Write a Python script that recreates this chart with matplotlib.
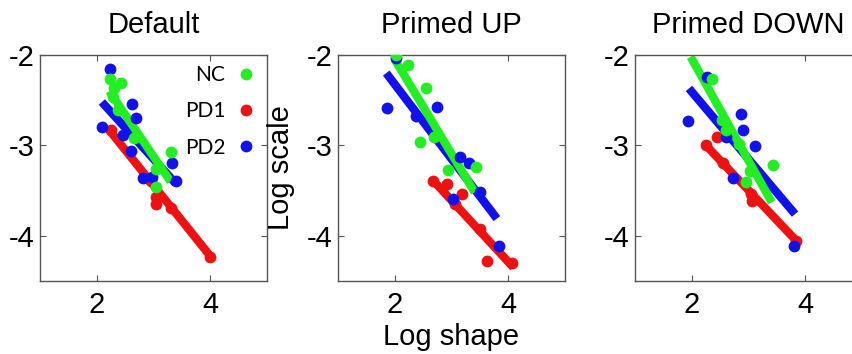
import matplotlib
matplotlib.use("Agg")
import matplotlib.pyplot as plt

plt.rcParams["font.family"] = ["Liberation Sans", "DejaVu Sans"]

titles = ["Default", "Primed UP", "Primed DOWN"]
groups = ["NC", "PD1", "PD2"]
colors = {"NC": "#22ee22", "PD1": "#ee1111", "PD2": "#1111ee"}

# points (log shape, log scale) per panel and group
nc_x = [[2.24, 2.43, 2.31, 2.28, 2.37, 2.66, 3.30, 3.05, 3.04],
        [2.02, 2.23, 2.55, 2.70, 2.44, 2.94, 3.43],
        [2.36, 2.53, 2.60, 2.83, 3.03, 2.96, 3.43]]
nc_y = [[-2.27, -2.31, -2.37, -2.46, -2.61, -2.92, -3.07, -3.26, -3.46],
        [-2.00, -2.11, -2.36, -2.91, -2.96, -3.27, -3.24],
        [-2.26, -2.72, -2.83, -2.98, -3.28, -3.41, -3.22]]
pd1_x = [[2.25, 2.96, 3.05, 3.05, 3.31, 3.99],
         [2.67, 2.92, 3.19, 3.06, 3.51, 3.62, 4.06],
         [2.25, 2.44, 2.55, 3.05, 3.07, 3.84]]
pd1_y = [[-2.83, -3.39, -3.57, -3.65, -3.69, -4.23],
         [-3.39, -3.43, -3.54, -3.65, -3.93, -4.28, -4.30],
         [-3.00, -2.91, -3.19, -3.54, -3.61, -4.06]]
pd2_x = [[2.23, 2.62, 2.69, 2.09, 2.46, 2.61, 2.81, 2.98, 3.33, 3.39],
         [2.03, 1.86, 2.75, 2.38, 3.15, 3.31, 3.02, 3.51, 3.83],
         [2.27, 1.94, 2.87, 2.91, 3.11, 2.60, 2.72, 3.81]]
pd2_y = [[-2.16, -2.54, -2.70, -2.80, -2.88, -3.06, -3.36, -3.35, -3.20, -3.39],
         [-2.03, -2.59, -2.57, -2.67, -3.13, -3.19, -3.59, -3.52, -4.11],
         [-2.24, -2.73, -2.65, -2.83, -3.01, -2.91, -3.36, -4.11]]

# fitted lines: (x0, x1, y0, y1) per panel
nc_fit = [(2.22, 3.30, -2.40, -3.40), (2.00, 3.41, -2.05, -3.52), (1.98, 3.41, -2.02, -3.63)]
pd1_fit = [(2.22, 4.02, -2.83, -4.24), (2.65, 4.09, -3.37, -4.35), (2.22, 3.85, -2.98, -4.06)]
pd2_fit = [(2.09, 3.39, -2.52, -3.42), (1.85, 3.80, -2.20, -3.81), (1.95, 3.82, -2.37, -3.76)]

pts = {"NC": (nc_x, nc_y), "PD1": (pd1_x, pd1_y), "PD2": (pd2_x, pd2_y)}
fits = {"NC": nc_fit, "PD1": pd1_fit, "PD2": pd2_fit}
# draw order: red, blue, green on top
order = ["PD1", "PD2", "NC"]

fig = plt.figure(figsize=(8.52, 3.54), dpi=100)
lefts = [40 / 852, 338 / 852, 635 / 852]
axes = []
for i, t in enumerate(titles):
    ax = fig.add_axes([lefts[i], 73 / 354, 227 / 852, 226 / 354])
    axes.append(ax)
    for g in order:
        x0, x1, y0, y1 = fits[g][i]
        ax.plot([x0, x1], [y0, y1], color=colors[g], lw=6, solid_capstyle="butt", zorder=2)
        ax.plot(pts[g][0][i], pts[g][1][i], "o", color=colors[g], ms=8.5, mew=0,
                zorder=3, label=g)
    ax.set_xlim(1, 5)
    ax.set_ylim(-4.5, -2)
    ax.set_xticks([2, 4])
    ax.set_yticks([-4, -3, -2])
    ax.set_yticklabels(["-4", "-3", "-2"])
    ax.tick_params(direction="in", length=4, width=0.8, labelsize=21, top=True, right=True,
                   color="#555555")
    ax.tick_params(axis="x", pad=7)
    ax.tick_params(axis="y", pad=4)
    for s in ax.spines.values():
        s.set_color("#555555")
        s.set_linewidth(1)
    ax.set_title(t, fontsize=21, pad=16)

h, l = axes[0].get_legend_handles_labels()
hd = dict(zip(l, h))
axes[0].legend([hd[g] for g in groups], groups, loc="upper right", frameon=False,
               markerfirst=False, handlelength=0.6, handletextpad=0.7,
               labelspacing=0.78, bbox_to_anchor=(1.0, 1.02), borderaxespad=0.3,
               prop={"family": ["Lato", "DejaVu Sans"], "size": 15})

axes[1].set_xlabel("Log shape", fontsize=21, labelpad=3)
axes[1].set_ylabel("Log scale", fontsize=21, labelpad=8)

fig.savefig("out.png", dpi=100)
